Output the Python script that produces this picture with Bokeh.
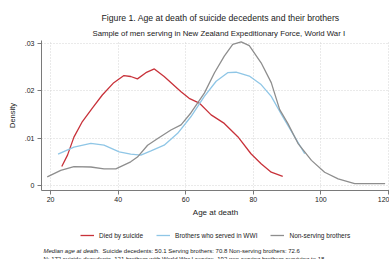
from bokeh.plotting import figure
from bokeh.layouts import column
from bokeh.models import Legend, LegendItem, Title, FixedTicker, Range1d
from bokeh.core.properties import value
from bokeh.embed import file_html
from bokeh.resources import INLINE

# Data (kernel density estimates)
suicide_age = [23.3, 25.0, 26.9, 29.4, 32.4, 35.3, 38.7, 41.7, 43.7, 45.7, 48.2, 50.7, 53.6,
               58.6, 61.0, 64.0, 67.5, 71.4, 75.4, 79.3, 82.3, 85.3, 88.7]
suicide_den = [0.0040, 0.0064, 0.0102, 0.0135, 0.0164, 0.0191, 0.0217, 0.0232, 0.0230, 0.0225,
               0.0238, 0.0246, 0.0230, 0.0198, 0.0184, 0.0174, 0.0149, 0.0131, 0.0103, 0.0067,
               0.0046, 0.0028, 0.0019]

served_age = [22.2, 26.9, 31.9, 35.8, 40.3, 43.7, 46.7, 49.7, 53.6, 57.6, 61.5, 65.5, 69.0,
              72.4, 74.9, 78.8, 82.3, 85.3, 88.7, 92.2, 95.2]
served_den = [0.0066, 0.0081, 0.0089, 0.0085, 0.0071, 0.0066, 0.0064, 0.0073, 0.0085, 0.0110,
              0.0145, 0.0188, 0.0220, 0.0238, 0.0239, 0.0231, 0.0213, 0.0188, 0.0145, 0.0103,
              0.0067]

nonserv_age = [19.0, 23.0, 26.9, 31.9, 35.8, 39.3, 43.7, 45.7, 48.7, 51.7, 55.6, 58.6, 61.5,
               65.5, 68.5, 71.4, 73.9, 76.4, 78.8, 82.3, 85.3, 87.8, 90.2, 93.2, 97.2, 101.1,
               105.1, 110.0, 119.0]
nonserv_den = [0.0018, 0.0032, 0.0040, 0.0039, 0.0035, 0.0035, 0.0050, 0.0060, 0.0085, 0.0099,
               0.0117, 0.0128, 0.0153, 0.0195, 0.0238, 0.0273, 0.0298, 0.0303, 0.0295, 0.0259,
               0.0217, 0.0160, 0.0131, 0.0089, 0.0053, 0.0028, 0.0014, 0.0004, 0.0004]

x_ticks = [20, 40, 60, 80, 100, 120]
y_ticks = [0, 0.01, 0.02, 0.03]
y_tick_labels = ["0", ".01", ".02", ".03"]

series_names = ["Died by suicide", "Brothers who served in WWI", "Non-serving brothers"]
series_colors = ["#c8323a", "#8fc6e6", "#8e8e8e"]
series_x = [suicide_age, served_age, nonserv_age]
series_y = [suicide_den, served_den, nonserv_den]

title_text = "Figure 1. Age at death of suicide decedents and their brothers"
subtitle_text = "Sample of men serving in New Zealand Expeditionary Force, World War I"
note_lead = "Median age at death."
note_body = ["Suicide decedents: 50.1 Serving brothers: 70.8 Non-serving brothers: 72.6",
             "N: 172 suicide decedents, 121 brothers with World War I service, 192 non-serving brothers surviving to 18"]

FONT = "Liberation Sans"
TXT = "#1a1a1a"
W = 389
FW = 348  # plot frame width (shared by the stacked strips)

# ---------------- main plot ----------------
p = figure(width=W, height=224, output_backend="svg", toolbar_location=None,
           x_range=Range1d(17.3, 120.3), y_range=Range1d(-0.00106, 0.0306),
           min_border_left=41, min_border_right=0, min_border_top=40, min_border_bottom=34)
p.outline_line_color = None
p.title.visible = False

for xs, ys, col in zip(series_x, series_y, series_colors):
    p.line(xs, ys, line_color=col, line_width=1.3)

for ax in (p.xaxis[0], p.yaxis[0]):
    ax.axis_line_color = "#7a7a7a"
    ax.major_tick_line_color = "#7a7a7a"
    ax.major_tick_out = 4
    ax.major_tick_in = 0
    ax.minor_tick_line_color = None
    ax.major_label_text_font = FONT
    ax.major_label_text_font_size = "7px"
    ax.major_label_text_color = TXT
    ax.axis_label_text_font = FONT
    ax.axis_label_text_font_style = "normal"
    ax.axis_label_text_color = TXT

p.xaxis.ticker = FixedTicker(ticks=x_ticks)
p.yaxis.ticker = FixedTicker(ticks=y_ticks)
p.yaxis.major_label_overrides = {t: l for t, l in zip(y_ticks, y_tick_labels)}
p.yaxis.major_label_orientation = "horizontal"
p.xaxis.axis_label = "Age at death"
p.yaxis.axis_label = "Density"
p.xaxis.axis_label_text_font_size = "8px"
p.yaxis.axis_label_text_font_size = "7.5px"
p.xaxis.major_label_standoff = 2
p.xaxis.axis_label_standoff = 3
p.yaxis.major_label_standoff = 3
p.yaxis.axis_label_standoff = 5

p.xgrid.ticker = FixedTicker(ticks=x_ticks)
p.ygrid.ticker = FixedTicker(ticks=y_ticks)
for g in (p.xgrid[0], p.ygrid[0]):
    g.grid_line_color = "#d4d4d4"
    g.grid_line_dash = "1 2"
    g.grid_line_width = 1

sub = Title(text=subtitle_text, align="left", text_font=FONT, text_font_size="7.8px",
            text_font_style="normal", text_color=TXT, offset=51, standoff=5)
main = Title(text=title_text, align="left", text_font=FONT, text_font_size="8.7px",
             text_font_style="normal", text_color=TXT, offset=60, standoff=4)
p.add_layout(sub, "above")
p.add_layout(main, "above")

# ---------------- legend strip ----------------
lg = figure(width=W, height=22, output_backend="svg", toolbar_location=None,
            x_range=Range1d(0, 1), y_range=Range1d(0, 1),
            x_axis_type=None, y_axis_type=None, min_border=0)
lg.outline_line_color = None
lg.xgrid.visible = False
lg.ygrid.visible = False
items = []
for name, xs, ys, col in zip(series_names, series_x, series_y, series_colors):
    # series data lies outside this strip's ranges; only the legend sample shows
    rr = lg.line(xs, ys, line_color=col, line_width=1.3)
    items.append(LegendItem(label=name, renderers=[rr]))
legend = Legend(items=items, orientation="horizontal", location=(39, 6),
                label_text_font=FONT, label_text_font_size="6.5px", label_text_color=TXT,
                glyph_width=14, glyph_height=10, label_height=10, label_standoff=5,
                spacing=13, padding=2, margin=0, border_line_color=None,
                background_fill_alpha=0)
lg.add_layout(legend, "center")

# ---------------- footnote strip ----------------
foot = figure(width=W, height=20, output_backend="svg", toolbar_location=None,
              x_range=Range1d(0, FW), y_range=Range1d(20, 0),
              x_axis_type=None, y_axis_type=None, min_border=0)
foot.outline_line_color = None
foot.xgrid.visible = False
foot.ygrid.visible = False
foot.text(x=[2], y=[4.7], text=[note_lead], text_font=value(FONT), text_font_size="6px",
          text_font_style="italic", text_baseline="middle", text_color=TXT)
foot.text(x=[61], y=[4.7], text=[note_body[0]], text_font=value(FONT), text_font_size="6px",
          text_baseline="middle", text_color=TXT)
foot.text(x=[2], y=[12.5], text=[note_body[1]], text_font=value(FONT), text_font_size="6px",
          text_baseline="middle", text_color=TXT)

layout = column(p, lg, foot, spacing=0)
open("out.html", "w").write(file_html(layout, INLINE))
